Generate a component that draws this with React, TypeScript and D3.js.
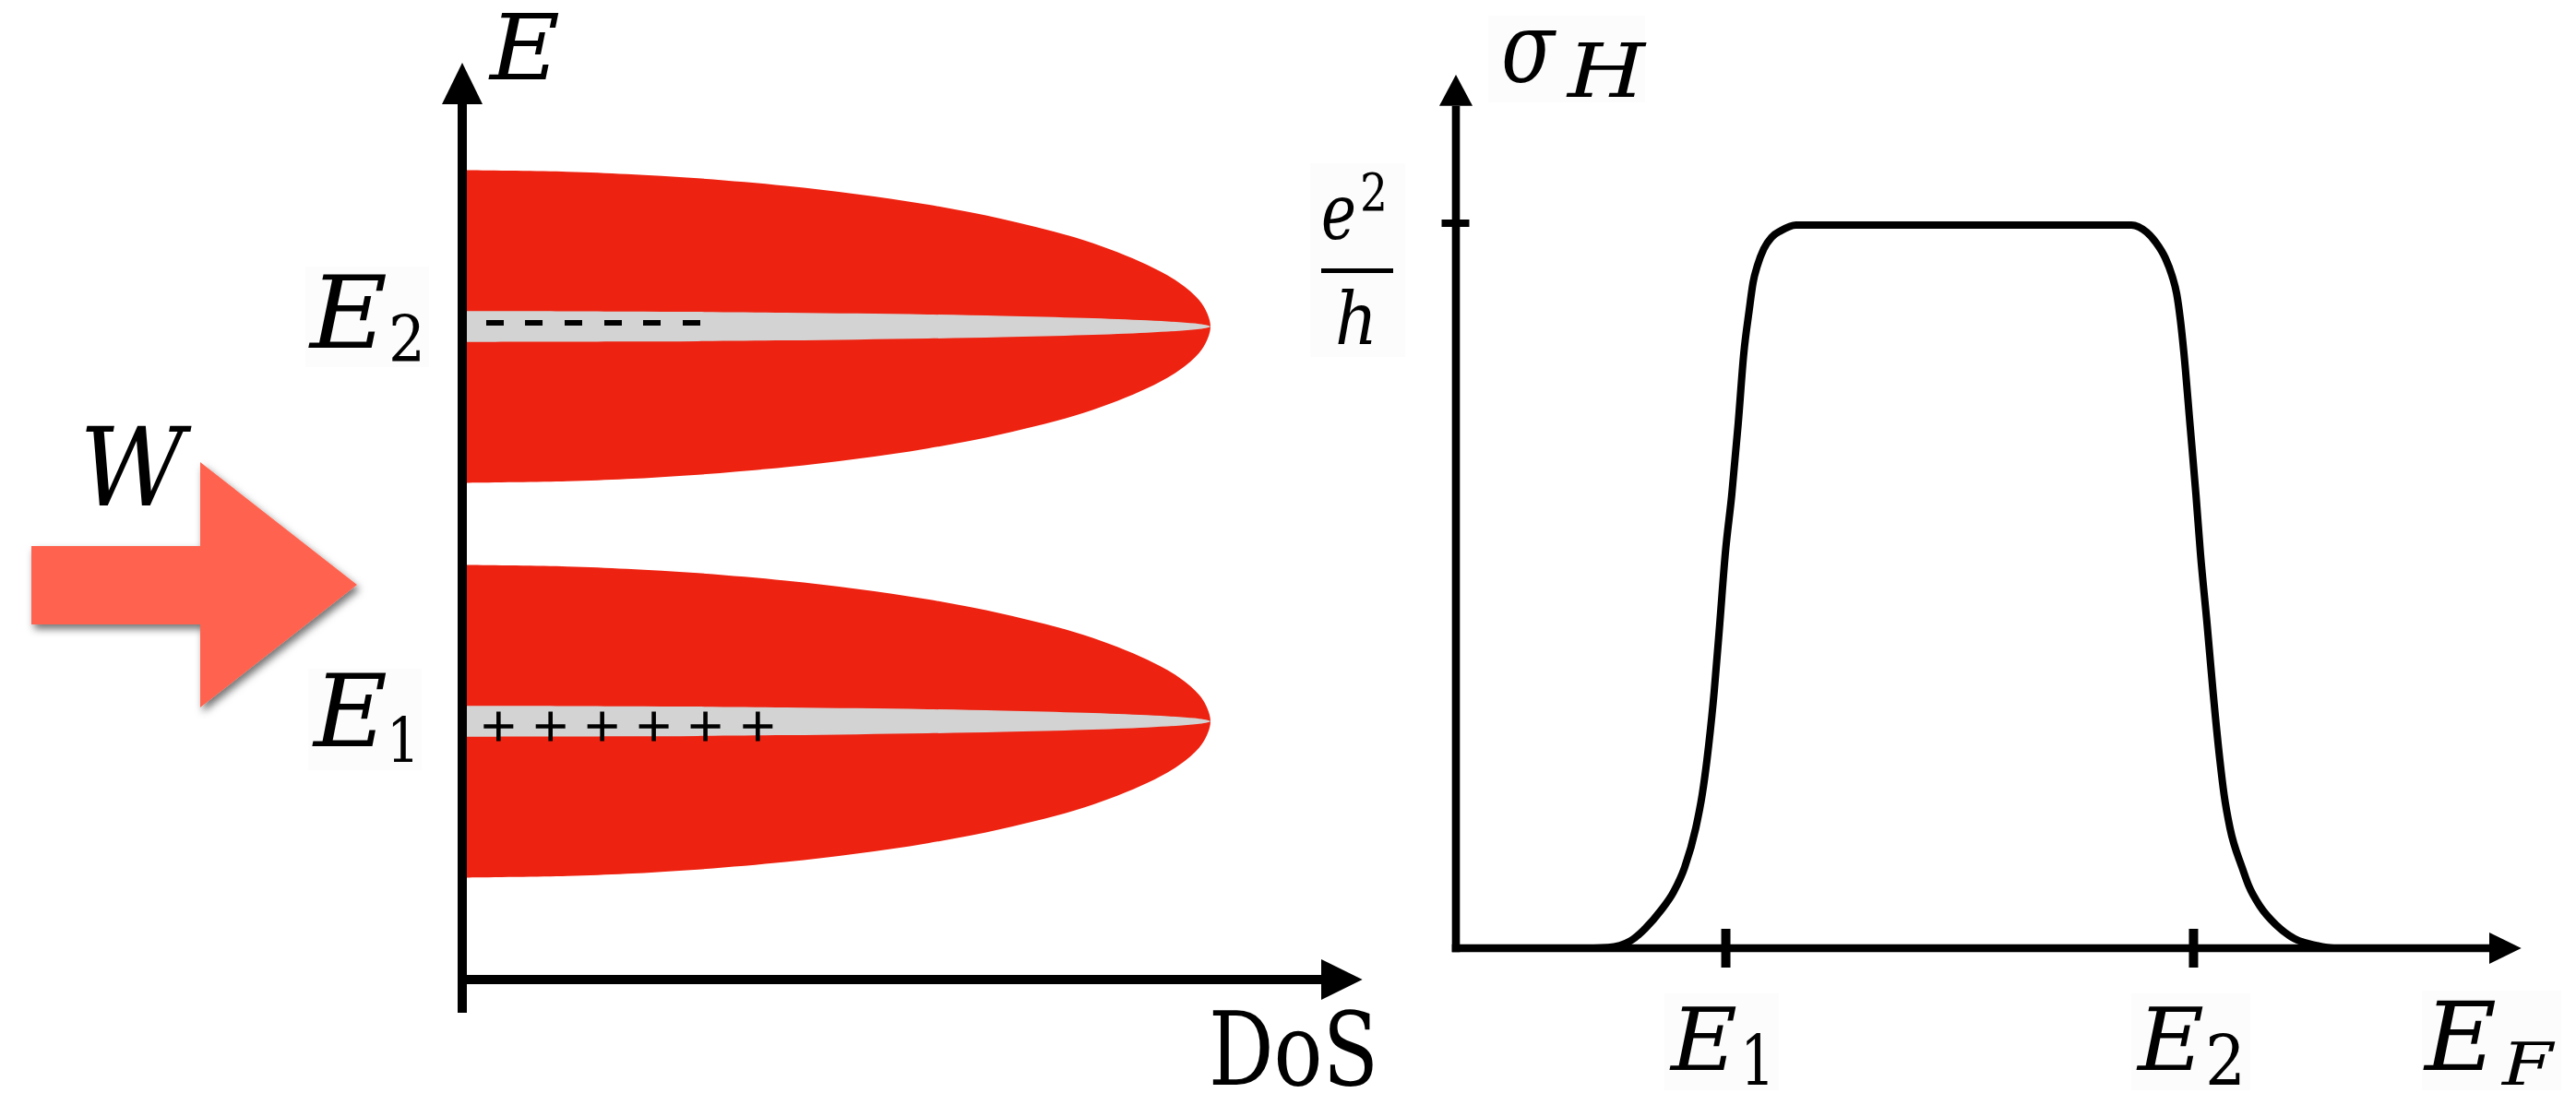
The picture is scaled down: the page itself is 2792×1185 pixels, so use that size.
import React from 'react';
import * as d3 from 'd3';

const WIDTH = 2792;
const HEIGHT = 1185;

// Broadened Landau levels: centre energies (E1, E2) and half-width, in energy units
const levelEnergy = [2.8, 7.08];
const levelHalfWidth = 1.695;
// fraction of each level occupied by extended states (grey core)
const extendedFraction = 0.099;

// DoS profile of one level: offset from centre (in half-widths) -> DoS (peak = 1)
const profileOffset = [0, 0.08, 0.168, 0.28, 0.395, 0.55, 0.687, 0.78, 0.847, 0.9, 0.948, 0.975, 0.99, 1];
const profileDos = [1, 0.996, 0.985, 0.958, 0.915, 0.832, 0.722, 0.622, 0.527, 0.432, 0.315, 0.22, 0.14, 0];

// charge markers along the extended core (DoS units)
const holePositions = [0.0485, 0.118, 0.187, 0.256, 0.325, 0.395];
const electronPositions = [0.0438, 0.0956, 0.1486, 0.2016, 0.2534, 0.3064];

// Hall conductance (units of e^2/h) versus Fermi energy
const fermiEnergy = [
  1.268, 1.473, 1.688, 1.83, 1.982, 2.107, 2.214, 2.321, 2.384, 2.429, 2.5, 2.554, 2.607,
  2.67, 2.732, 2.786, 2.837, 2.875, 2.92, 2.979, 3.054, 3.143, 3.292, 4.9, 6.536, 6.685,
  6.774, 6.863, 6.93, 6.975, 7.01, 7.045, 7.103, 7.161, 7.205, 7.268, 7.326, 7.393,
  7.433, 7.491, 7.607, 7.67, 7.786, 7.938, 8.116, 8.321, 8.5, 8.8,
];
const hallSigma = [
  0, 0.001, 0.01, 0.027, 0.052, 0.078, 0.112, 0.166, 0.213, 0.26, 0.356, 0.45, 0.546,
  0.628, 0.726, 0.823, 0.881, 0.92, 0.945, 0.967, 0.983, 0.992, 1, 1, 1, 0.99,
  0.976, 0.955, 0.93, 0.905, 0.87, 0.823, 0.726, 0.628, 0.546, 0.45, 0.356, 0.26,
  0.213, 0.166, 0.112, 0.087, 0.057, 0.032, 0.013, 0.004, 0, 0,
];
const fermiTicks = [2.612, 7.138];
const sigmaTicks = [1];

const RED = '#EE2210';
const GREY = '#D3D3D3';
const ARROW = '#FF6450';
const SERIF = "'DejaVu Serif', 'Liberation Serif', 'Noto Serif', serif";
const LABEL_BG = '#FCFCFC';

// scales
const dosX = d3.scaleLinear().domain([0, 1]).range([501, 1312]);
const energyY = d3.scaleLinear().domain([0, 10]).range([1062, 62]);
const efX = d3.scaleLinear().domain([0, 10]).range([1578, 2698]);
const sigmaY = d3.scaleLinear().domain([0, 1]).range([1028, 244]);

type P = { t: number; w: number };
const half: P[] = profileOffset.map((t, i) => ({ t, w: profileDos[i] }));
const profile: P[] = [
  ...half.slice().reverse().map((p) => ({ t: -p.t, w: p.w })),
  ...half.slice(1),
];

function lensPath(e0: number, scale: number) {
  return d3
    .area<P>()
    .y((p) => energyY(e0 + p.t * levelHalfWidth * scale))
    .x0(dosX(0))
    .x1((p) => dosX(p.w))
    .curve(d3.curveCatmullRom.alpha(0.5))(profile) as string;
}

const hallLine = d3
  .line<number>()
  .x((_, i) => efX(fermiEnergy[i]))
  .y((s) => sigmaY(s))
  .curve(d3.curveMonotoneX)(hallSigma) as string;

function Label(props: {
  x: number;
  y: number;
  size: number;
  children: React.ReactNode;
  italic?: boolean;
  length?: number;
}) {
  return (
    <text
      x={props.x}
      y={props.y}
      style={{
        fontFamily: SERIF,
        fontStyle: props.italic === false ? 'normal' : 'italic',
        fontSize: props.size,
      }}
      textLength={props.length}
      lengthAdjust={props.length ? 'spacingAndGlyphs' : undefined}
      fill="#000"
    >
      {props.children}
    </text>
  );
}

export default function App() {
  const axisW = 10;
  const rAxisW = 8.6;

  // left panel axis geometry
  const lAxisX = dosX(0);
  const lAxisY = energyY(0);
  const lTop = energyY(9.49);
  const lTip = energyY(9.94);
  const lBottom = energyY(-0.36);
  const lRight = dosX(1.148);
  const lRightTip = dosX(1.203);

  // right panel axis geometry
  const rAxisX = efX(0);
  const rAxisY = sigmaY(0);
  const rTop = sigmaY(1.165);
  const rTip = sigmaY(1.208);
  const rRight = efX(10);
  const rRightTip = efX(10.31);

  return (
    <svg
      width={WIDTH}
      height={HEIGHT}
      viewBox={`0 0 ${WIDTH} ${HEIGHT}`}
      style={{ position: 'absolute', left: 0, top: 0, background: '#fff' }}
    >
      <defs>
        <filter id="shadow" x="-20%" y="-20%" width="150%" height="150%">
          <feDropShadow dx="3" dy="5" stdDeviation="4" floodColor="#000" floodOpacity="0.55" />
        </filter>
      </defs>
      <rect width={WIDTH} height={HEIGHT} fill="#fff" />

      {/* label backdrops */}
      <rect x={331} y={289} width={134} height={109} fill={LABEL_BG} />
      <rect x={334} y={725} width={123} height={110} fill={LABEL_BG} />
      <rect x={1420} y={177} width={103} height={210} fill={LABEL_BG} />
      <rect x={1613} y={17} width={170} height={94} fill={LABEL_BG} />
      <rect x={1804} y={1077} width={124} height={105} fill={LABEL_BG} />
      <rect x={2310} y={1077} width={129} height={105} fill={LABEL_BG} />
      <rect x={2625} y={1074} width={151} height={108} fill={LABEL_BG} />

      {/* broadened Landau levels */}
      {levelEnergy.map((e0, i) => (
        <g key={i}>
          <path d={lensPath(e0, 1)} fill={RED} />
          <path d={lensPath(e0, extendedFraction)} fill={GREY} />
        </g>
      ))}

      {/* charges: electrons at E2, holes at E1 */}
      {electronPositions.map((p, i) => (
        <line
          key={'e' + i}
          x1={dosX(p) - 9.5}
          x2={dosX(p) + 9.5}
          y1={energyY(levelEnergy[1]) - 4}
          y2={energyY(levelEnergy[1]) - 4}
          stroke="#000"
          strokeWidth={6}
        />
      ))}
      {holePositions.map((p, i) => {
        const cx = dosX(p);
        const cy = energyY(levelEnergy[0]) + 5.5;
        return (
          <g key={'h' + i} stroke="#000" strokeWidth={4.6}>
            <line x1={cx - 16} x2={cx + 16} y1={cy} y2={cy} />
            <line x1={cx} x2={cx} y1={cy - 16} y2={cy + 16} />
          </g>
        );
      })}

      {/* left axes */}
      <line x1={lAxisX} x2={lAxisX} y1={lBottom} y2={lTop} stroke="#000" strokeWidth={axisW} />
      <polygon
        points={`${lAxisX},${lTip} ${lAxisX - 22},${lTop} ${lAxisX + 22},${lTop}`}
        fill="#000"
      />
      <line x1={lAxisX - axisW / 2} x2={lRight} y1={lAxisY} y2={lAxisY} stroke="#000" strokeWidth={axisW} />
      <polygon
        points={`${lRightTip},${lAxisY} ${lRight},${lAxisY - 22} ${lRight},${lAxisY + 22}`}
        fill="#000"
      />

      {/* left labels */}
      <Label x={531} y={86} size={100} length={76}>E</Label>
      <Label x={336} y={377} size={108} length={84}>E</Label>
      <Label x={421} y={392} size={69} italic={false} length={40}>2</Label>
      <Label x={340} y={809} size={108} length={80}>E</Label>
      <Label x={419} y={826} size={67} italic={false} length={36}>1</Label>
      <Label x={1310} y={1176} size={110} italic={false} length={184}>DoS</Label>

      {/* disorder strength arrow */}
      <Label x={86} y={548} size={117} length={114}>W</Label>
      <polygon
        points="34,592 217,592 217,501 387,634 217,767 217,677 34,677"
        fill={ARROW}
        filter="url(#shadow)"
      />

      {/* right axes */}
      <line x1={rAxisX} x2={rAxisX} y1={rAxisY + rAxisW / 2} y2={rTop} stroke="#000" strokeWidth={rAxisW} />
      <polygon
        points={`${rAxisX},${rTip} ${rAxisX - 18},${rTop} ${rAxisX + 18},${rTop}`}
        fill="#000"
      />
      <line x1={rAxisX - rAxisW / 2} x2={rRight} y1={rAxisY} y2={rAxisY} stroke="#000" strokeWidth={rAxisW} />
      <polygon
        points={`${rRightTip},${rAxisY} ${rRight},${rAxisY - 17} ${rRight},${rAxisY + 17}`}
        fill="#000"
      />
      {fermiTicks.map((t, i) => (
        <line
          key={'ft' + i}
          x1={efX(t)}
          x2={efX(t)}
          y1={rAxisY - 21}
          y2={rAxisY + 21}
          stroke="#000"
          strokeWidth={10}
        />
      ))}
      {sigmaTicks.map((t, i) => (
        <line
          key={'st' + i}
          x1={rAxisX - 15.5}
          x2={rAxisX + 14.5}
          y1={sigmaY(t) - 2}
          y2={sigmaY(t) - 2}
          stroke="#000"
          strokeWidth={8}
        />
      ))}

      {/* Hall conductance step */}
      <path d={hallLine} fill="none" stroke="#000" strokeWidth={8} strokeLinejoin="round" strokeLinecap="round" />

      {/* right labels */}
      <Label x={1627} y={88} size={106} length={58}>σ</Label>
      <Label x={1699} y={105} size={81} length={84}>H</Label>
      <Label x={1432} y={259} size={85} length={38}>e</Label>
      <Label x={1474} y={228} size={56} italic={false} length={30}>2</Label>
      <line x1={1432} x2={1510} y1={293.5} y2={293.5} stroke="#000" strokeWidth={5} />
      <Label x={1447} y={373} size={79} length={46}>h</Label>
      <Label x={1811} y={1160} size={93} length={72}>E</Label>
      <Label x={1886} y={1176} size={74} italic={false} length={38}>1</Label>
      <Label x={2317} y={1160} size={93} length={72}>E</Label>
      <Label x={2390} y={1176} size={74} italic={false} length={44}>2</Label>
      <Label x={2628} y={1160} size={103} length={78}>E</Label>
      <Label x={2712} y={1176} size={64} length={55}>F</Label>
    </svg>
  );
}
